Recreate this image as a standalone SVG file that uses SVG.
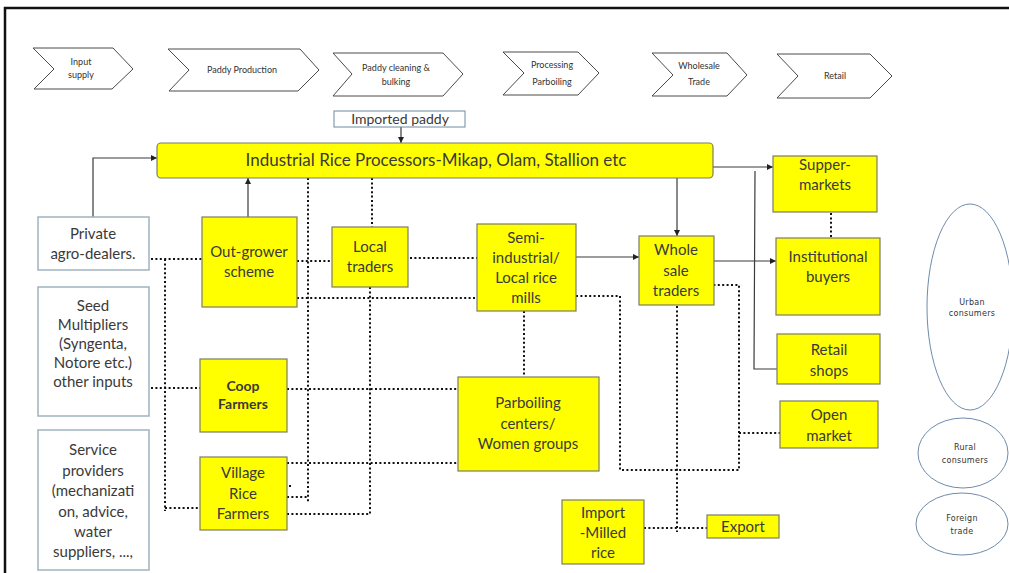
<svg xmlns="http://www.w3.org/2000/svg" width="1009" height="573" viewBox="0 0 1009 573">
  <defs>
    <marker id="arrow" viewBox="0 0 10 10" refX="10" refY="5" markerWidth="6" markerHeight="6" markerUnits="userSpaceOnUse" orient="auto">
      <path d="M0,0 L10,5 L0,10 Z" fill="#222"/>
    </marker>
    <style>
      .stage { fill: #ffffff; stroke: #4a4a4a; stroke-width: 1; }
      .stage-t { font-family: Lato, "Liberation Sans", sans-serif; font-size: 9px; fill: #333; text-anchor: middle; }
      .yel { fill: #ffff00; stroke: #7d7d62; stroke-width: 1.2; }
      .side { fill: #ffffff; stroke: #9fb2be; stroke-width: 1.5; }
      .t { font-family: Lato, "Liberation Sans", sans-serif; font-size: 15px; fill: #3a3a3a; text-anchor: middle; }
      .tb { font-weight: bold; }
      .ell { fill: #ffffff; stroke: #6f8cab; stroke-width: 1; }
      .ell-t { font-family: "DejaVu Sans", sans-serif; font-size: 8px; fill: #333; text-anchor: middle; letter-spacing: 0.3px; }
      .solid { fill: none; stroke: #3a3a3a; stroke-width: 1.2; }
      .dot { fill: none; stroke: #111; stroke-width: 2; stroke-dasharray: 2 2.4; }
    </style>
  </defs>

  <rect x="0" y="0" width="1009" height="573" fill="#ffffff"/>
  <!-- frame -->
  <rect x="5" y="8" width="1012" height="572" fill="none" stroke="#111" stroke-width="2.5"/>

  <!-- value chain stages -->
  <g id="stage-input">
    <path class="stage" d="M33,48 L113,48 L133,69 L112,89 L34,89 L54,69 Z"/>
    <text class="stage-t" x="81" y="65">Input</text>
    <text class="stage-t" x="81" y="78">supply</text>
  </g>
  <g id="stage-production">
    <path class="stage" d="M168,49 L300,49 L319,70 L298,91 L169,91 L189,70 Z"/>
    <text class="stage-t" x="242" y="73">Paddy Production</text>
  </g>
  <g id="stage-cleaning">
    <path class="stage" d="M333,53 L443,53 L463,74 L443,96 L333,96 L352,74 Z"/>
    <text class="stage-t" x="396" y="71">Paddy cleaning &amp;</text>
    <text class="stage-t" x="396" y="85">bulking</text>
  </g>
  <g id="stage-processing">
    <path class="stage" d="M503,52 L578,52 L599,73 L578,95 L503,95 L524,73 Z"/>
    <text class="stage-t" x="552" y="68">Processing</text>
    <text class="stage-t" x="552" y="85">Parboiling</text>
  </g>
  <g id="stage-wholesale">
    <path class="stage" d="M652,53 L727,53 L747,75 L727,96 L652,96 L673,75 Z"/>
    <text class="stage-t" x="699" y="69">Wholesale</text>
    <text class="stage-t" x="699" y="85">Trade</text>
  </g>
  <g id="stage-retail">
    <path class="stage" d="M777,54 L870,54 L892,76 L870,98 L777,98 L798,76 Z"/>
    <text class="stage-t" x="835" y="79">Retail</text>
  </g>

  <!-- connectors -->
  <g id="connectors">
    <!-- solid flows -->
    <path class="solid" d="M401,127 L401,143" marker-end="url(#arrow)"/>
    <path class="solid" d="M93,217 L93,158 L157,158" marker-end="url(#arrow)"/>
    <path class="solid" d="M248,217 L248,178" marker-end="url(#arrow)"/>
    <path class="solid" d="M677,178 L677,236" marker-end="url(#arrow)"/>
    <path class="solid" d="M576,257 L639,257" marker-end="url(#arrow)"/>
    <path class="solid" d="M713,167 L773,167" marker-end="url(#arrow)"/>
    <path class="solid" d="M714,261 L776,261" marker-end="url(#arrow)"/>
    <path class="solid" d="M755,171 L754,369 L777,369"/>

    <!-- dotted links -->
    <path class="dot" d="M151,259 L202,259"/>
    <path class="dot" d="M165,259 L165,511"/>
    <path class="dot" d="M165,508 L200,508"/>
    <path class="dot" d="M151,388 L200,388"/>
    <path class="dot" d="M308,178 L308,502"/>
    <path class="dot" d="M287,497 L308,497"/>
    <path class="dot" d="M289,486 L291,486"/>
    <path class="dot" d="M297,261 L332,261"/>
    <path class="dot" d="M297,298 L477,298"/>
    <path class="dot" d="M287,389 L458,389"/>
    <path class="dot" d="M287,463 L458,463"/>
    <path class="dot" d="M287,514 L370,514"/>
    <path class="dot" d="M370,287 L370,515"/>
    <path class="dot" d="M372,178 L372,227"/>
    <path class="dot" d="M410,258 L477,258"/>
    <path class="dot" d="M524,311 L524,377"/>
    <path class="dot" d="M576,296 L620,296 L620,470 L739,470 L739,285 L714,285"/>
    <path class="dot" d="M739,433 L780,433"/>
    <path class="dot" d="M677,306 L677,532"/>
    <path class="dot" d="M644,528 L707,528"/>
    <path class="dot" d="M831,213 L831,237"/>
  </g>

  <!-- central processor bar -->
  <g id="imported-paddy">
    <rect x="334" y="111" width="131" height="16" fill="#ffffff" stroke="#6f8aa0" stroke-width="1"/>
    <text class="t" x="400" y="124" style="font-size:14px">Imported paddy</text>
  </g>
  <g id="industrial-processors">
    <rect class="yel" x="157" y="143" width="556" height="35" rx="4"/>
    <text class="t" x="436" y="166" style="font-size:17px">Industrial Rice Processors-Mikap, Olam, Stallion etc</text>
  </g>

  <!-- input suppliers -->
  <g id="agro-dealers">
    <rect class="side" x="38" y="217" width="111" height="53"/>
    <text class="t" x="93" y="239">Private</text>
    <text class="t" x="93" y="259">agro-dealers.</text>
  </g>
  <g id="seed-multipliers">
    <rect class="side" x="38" y="287" width="111" height="129"/>
    <text class="t" x="93" y="311">Seed</text>
    <text class="t" x="93" y="330">Multipliers</text>
    <text class="t" x="93" y="349">(Syngenta,</text>
    <text class="t" x="93" y="368">Notore etc.)</text>
    <text class="t" x="93" y="387">other inputs</text>
  </g>
  <g id="service-providers">
    <rect class="side" x="38" y="430" width="111" height="140"/>
    <text class="t" x="93" y="455">Service</text>
    <text class="t" x="93" y="476">providers</text>
    <text class="t" x="93" y="496">(mechanizati</text>
    <text class="t" x="93" y="517">on, advice,</text>
    <text class="t" x="93" y="537">water</text>
    <text class="t" x="93" y="557">suppliers, ...,</text>
  </g>

  <!-- producers -->
  <g id="out-grower">
    <rect class="yel" x="202" y="217" width="95" height="90"/>
    <text class="t" x="249" y="257">Out-grower</text>
    <text class="t" x="249" y="277">scheme</text>
  </g>
  <g id="coop-farmers">
    <rect class="yel" x="200" y="359" width="87" height="73"/>
    <text class="t tb" x="243" y="391" style="font-size:14px">Coop</text>
    <text class="t tb" x="243" y="409" style="font-size:14px">Farmers</text>
  </g>
  <g id="village-farmers">
    <rect class="yel" x="200" y="457" width="87" height="73"/>
    <text class="t" x="243" y="478">Village</text>
    <text class="t" x="243" y="499">Rice</text>
    <text class="t" x="243" y="519">Farmers</text>
  </g>

  <!-- traders and mills -->
  <g id="local-traders">
    <rect class="yel" x="332" y="227" width="76" height="60"/>
    <text class="t" x="370" y="252">Local</text>
    <text class="t" x="370" y="272">traders</text>
  </g>
  <g id="local-mills">
    <rect class="yel" x="477" y="224" width="99" height="87"/>
    <text class="t" x="526" y="243">Semi-</text>
    <text class="t" x="526" y="263">industrial/</text>
    <text class="t" x="526" y="283">Local rice</text>
    <text class="t" x="526" y="303">mills</text>
  </g>
  <g id="parboiling-centers">
    <rect class="yel" x="458" y="377" width="141" height="94"/>
    <text class="t" x="528" y="408">Parboiling</text>
    <text class="t" x="528" y="429">centers/</text>
    <text class="t" x="528" y="449">Women groups</text>
  </g>
  <g id="wholesale-traders">
    <rect class="yel" x="639" y="236" width="75" height="69"/>
    <text class="t" x="676" y="255">Whole</text>
    <text class="t" x="676" y="276">sale</text>
    <text class="t" x="676" y="296">traders</text>
  </g>
  <g id="import-milled">
    <rect class="yel" x="562" y="500" width="82" height="64"/>
    <text class="t" x="603" y="518">Import</text>
    <text class="t" x="603" y="538">-Milled</text>
    <text class="t" x="603" y="558">rice</text>
  </g>
  <g id="export">
    <rect class="yel" x="707" y="515" width="72" height="23"/>
    <text class="t" x="743" y="532">Export</text>
  </g>

  <!-- retail outlets -->
  <g id="supermarkets">
    <rect class="yel" x="773" y="156" width="104" height="56"/>
    <text class="t" x="825" y="170">Supper-</text>
    <text class="t" x="825" y="190">markets</text>
  </g>
  <g id="institutional-buyers">
    <rect class="yel" x="776" y="238" width="104" height="77"/>
    <text class="t" x="828" y="262">Institutional</text>
    <text class="t" x="828" y="282">buyers</text>
  </g>
  <g id="retail-shops">
    <rect class="yel" x="777" y="334" width="103" height="50"/>
    <text class="t" x="829" y="355">Retail</text>
    <text class="t" x="829" y="376">shops</text>
  </g>
  <g id="open-market">
    <rect class="yel" x="780" y="401" width="98" height="47"/>
    <text class="t" x="829" y="420">Open</text>
    <text class="t" x="829" y="441">market</text>
  </g>

  <!-- consumers -->
  <g id="urban-consumers">
    <ellipse class="ell" cx="970" cy="307" rx="43" ry="103"/>
    <text class="ell-t" x="972" y="305">Urban</text>
    <text class="ell-t" x="972" y="316">consumers</text>
  </g>
  <g id="rural-consumers">
    <ellipse class="ell" cx="963" cy="453" rx="45" ry="35"/>
    <text class="ell-t" x="965" y="450">Rural</text>
    <text class="ell-t" x="965" y="463">consumers</text>
  </g>
  <g id="foreign-trade">
    <ellipse class="ell" cx="962" cy="524" rx="46" ry="31"/>
    <text class="ell-t" x="962" y="521">Foreign</text>
    <text class="ell-t" x="962" y="534">trade</text>
  </g>
</svg>
